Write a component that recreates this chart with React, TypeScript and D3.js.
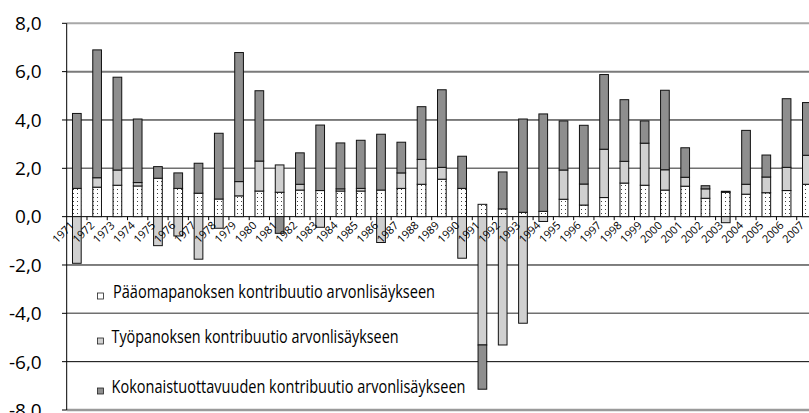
import React from "react";
import * as d3 from "d3";

const years = ["1971","1972","1973","1974","1975","1976","1977","1978","1979","1980","1981","1982","1983","1984","1985","1986","1987","1988","1989","1990","1991","1992","1993","1994","1995","1996","1997","1998","1999","2000","2001","2002","2003","2004","2005","2006","2007"];
const capital = [1.17,1.22,1.30,1.27,1.59,1.17,0.97,0.73,0.86,1.06,1.01,1.10,1.08,1.06,1.06,1.10,1.17,1.34,1.55,1.17,0.51,0.32,0.18,0.22,0.72,0.48,0.79,1.39,1.30,1.10,1.26,0.76,1.01,0.93,0.99,1.08,1.34];
const labor = [-1.93,0.39,0.63,0.14,-1.20,-0.80,-1.76,-0.48,0.59,1.24,1.13,0.24,-0.44,0.09,0.11,-1.07,0.64,1.03,0.49,-1.72,-5.31,-5.31,-4.41,-0.20,1.21,0.87,2.00,0.90,1.74,0.84,0.37,0.39,-0.25,0.41,0.65,0.96,1.20];
const tfp = [3.10,5.29,3.84,2.63,0.48,0.64,1.24,2.72,5.34,2.91,-0.69,1.30,2.71,1.90,1.99,2.31,1.27,2.18,3.21,1.33,-1.83,1.53,3.86,4.03,2.03,2.43,3.09,2.55,0.92,3.29,1.22,0.13,0.04,2.23,0.91,2.84,2.18];
const yTicks = [8, 6, 4, 2, 0, -2, -4, -6, -8];
const seriesKeys = ["capital", "labor", "tfp"];
const legendLabels = [
  "Pääomapanoksen kontribuutio arvonlisäykseen",
  "Työpanoksen kontribuutio arvonlisäykseen",
  "Kokonaistuottavuuden kontribuutio arvonlisäykseen",
];

const W = 809, H = 413;
const FONT = "'Open Sans', 'DejaVu Sans', sans-serif";

export default function App() {
  const x = d3.scaleBand<string>().domain(years).range([66.7, 817]).paddingInner(0).paddingOuter(0);
  const y = d3.scaleLinear().domain([-8, 8]).range([410, 23.3]);
  const rows = years.map((yr, i) => ({ year: yr, capital: capital[i], labor: labor[i], tfp: tfp[i] }));
  const stack = d3.stack<any>().keys(seriesKeys).offset(d3.stackOffsetDiverging);
  const stacked = stack(rows);
  const fills: Record<string, string> = { capital: "url(#dots)", labor: "#d0d0d0", tfp: "#8e8e8e" };
  const barW = 8.7;
  const fmt = (v: number) => d3.format(".1f")(v).replace(".", ",").replace("−", "-");

  const gridStyle = (t: number) => {
    if (t === 8) return { stroke: "#a8a8a8", w: 2 };
    if (t === 6) return { stroke: "#7a7a7a", w: 2 };
    if (t === 2 || t === -4) return { stroke: "#707070", w: 1.5 };
    if (t === -8) return { stroke: "#9a9a9a", w: 2.5 };
    return { stroke: "#000", w: 1 };
  };

  const legendY = [295, 340, 390];
  const legendX = [113, 111.5, 111.5];
  const legendLen = [322, 287, 354];
  const legendFill = ["#ffffff", "#d0d0d0", "#8e8e8e"];

  return (
    <svg width={W} height={H} style={{ position: "absolute", left: 0, top: 0, background: "#fff" }} fontFamily={FONT}>
      <defs>
        <pattern id="dots" width="4" height="4" patternUnits="userSpaceOnUse">
          <rect width="4" height="4" fill="#fff" />
          <rect x="1" y="1" width="1" height="1" fill="#444" />
        </pattern>
      </defs>
      {yTicks.map((t) => {
        const s = gridStyle(t);
        return (
          <g key={t}>
            <line x1={66.7} x2={W} y1={y(t)} y2={y(t)} stroke={s.stroke} strokeWidth={s.w} />
            <line x1={62} x2={66.7} y1={y(t)} y2={y(t)} stroke="#000" strokeWidth={1} />
            <text x={41.7} y={y(t)} dy="0.36em" textAnchor="end" fontSize={19} fill="#000">{fmt(t)}</text>
          </g>
        );
      })}
      <line x1={66.7} x2={66.7} y1={y(8)} y2={y(-8)} stroke="#000" strokeWidth={1} />
      {years.map((yr) => (
        <line key={"t" + yr} x1={(x(yr) as number) + x.bandwidth()} x2={(x(yr) as number) + x.bandwidth()} y1={y(0)} y2={y(0) + 3.5} stroke="#000" strokeWidth={1} />
      ))}
      {stacked.map((layer) => (
        <g key={layer.key}>
          {layer.map((d, i) => {
            const y0 = y(d[0]), y1 = y(d[1]);
            const top = Math.min(y0, y1), h = Math.abs(y0 - y1);
            if (h < 0.01) return null;
            const cx = (x(years[i]) as number) + x.bandwidth() / 2;
            return (
              <rect key={i} x={cx - barW / 2} y={top} width={barW} height={h} fill={fills[layer.key]} stroke="#111" strokeWidth={1} />
            );
          })}
        </g>
      ))}
      {years.map((yr) => {
        const cx = (x(yr) as number) + x.bandwidth() / 2;
        const x0 = cx - 2, y0 = 226;
        return (
          <text key={"l" + yr} x={x0} y={y0} transform={`rotate(-45, ${x0}, ${y0})`} textAnchor="end" fontSize={11} fill="#000">{yr}</text>
        );
      })}
      {legendLabels.map((lab, i) => (
        <g key={lab}>
          <rect x={97.5} y={legendY[i] - 2} width={6} height={6} fill={legendFill[i]} stroke="#222" strokeWidth={0.8} />
          <text x={legendX[i]} y={legendY[i] + 3} fontSize={18} fill="#000" textLength={legendLen[i]} lengthAdjust="spacingAndGlyphs">{lab}</text>
        </g>
      ))}
    </svg>
  );
}
